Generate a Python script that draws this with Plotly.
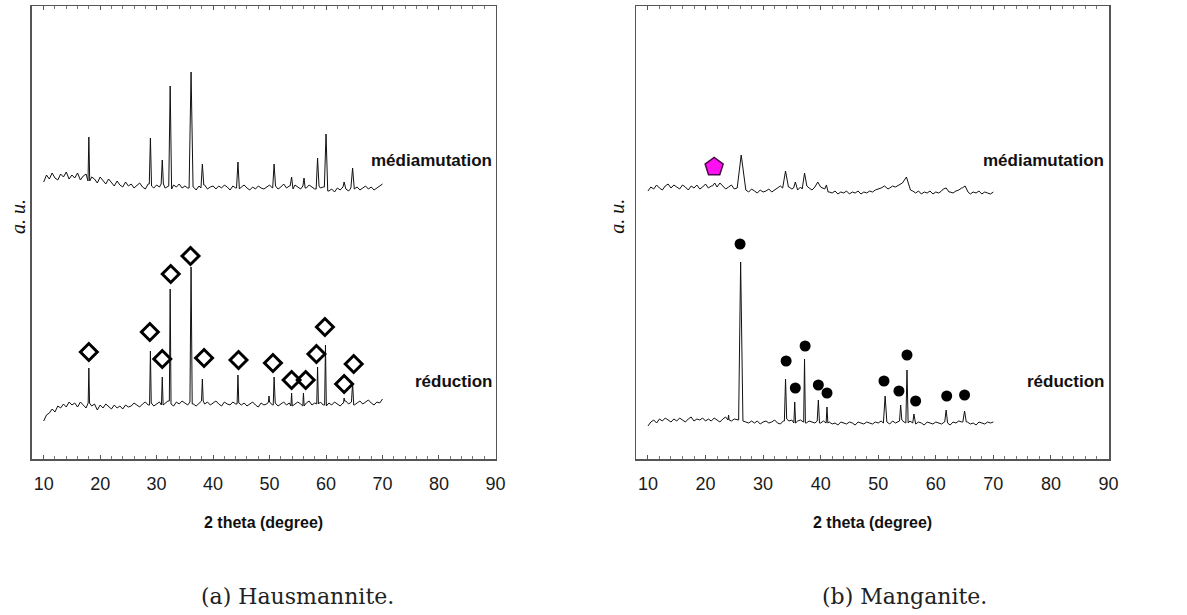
import plotly.graph_objects as go

# ---------------- data (2 theta in degrees, intensity in arbitrary units) ----------------
GRID = [10 + 0.5 * i for i in range(121)]  # sampling positions of the read baselines

# Hausmannite - médiamutation (upper trace, left panel)
HM_MED_BASE = [277, 284, 280, 286, 281, 279, 285, 282, 287, 280, 284,
               281, 286, 279, 283, 285, 278, 282, 280, 276, 282,
               278, 275, 280, 276, 273, 278, 274, 272, 277, 273,
               275, 271, 274, 276, 272, 270, 275, 273, 271, 274,
               272, 275, 271, 273, 270, 274, 272, 275, 271, 273,
               271, 274, 272, 269, 273, 271, 274, 270, 272, 273,
               270, 273, 271, 274, 272, 269, 273, 271, 270, 272,
               274, 271, 269, 272, 270, 273, 271, 270, 272, 274,
               271, 273, 270, 272, 275, 271, 273, 270, 274, 272,
               270, 273, 271, 274, 272, 270, 273, 271, 272, 270,
               268, 270, 267, 271, 269, 272, 270, 268, 271, 270,
               272, 269, 271, 273, 270, 272, 269, 271, 273, 275]
HM_MED_POS = [18.0, 28.9, 31.0, 32.4, 36.1, 38.1, 44.4, 50.8, 53.9, 56.1, 58.5, 60.0, 63.2, 64.7]
HM_MED_TOP = [322, 321, 299, 373, 387, 295, 297, 295, 282, 281, 301, 325, 277, 291]
HM_MED_HW = [0.15, 0.2, 0.2, 0.25, 0.35, 0.25, 0.25, 0.25, 0.25, 0.2, 0.25, 0.3, 0.2, 0.3]

# Hausmannite - réduction (lower trace, left panel)
HM_RED_BASE = [38, 44, 46, 50, 47, 53, 51, 55, 52, 57, 54,
               56, 52, 57, 54, 51, 56, 53, 55, 49, 54,
               51, 55, 52, 50, 54, 51, 53, 50, 54, 52,
               53, 56, 54, 52, 55, 57, 54, 56, 53, 55,
               57, 54, 56, 58, 55, 53, 57, 55, 58, 56,
               54, 57, 55, 53, 56, 58, 55, 57, 54, 56,
               58, 55, 53, 57, 55, 54, 57, 55, 56, 54,
               56, 53, 55, 57, 54, 52, 56, 54, 55, 57,
               54, 56, 53, 55, 57, 54, 56, 53, 55, 57,
               55, 53, 56, 58, 54, 56, 55, 57, 54, 53,
               56, 54, 57, 55, 53, 56, 58, 55, 57, 54,
               56, 58, 55, 57, 59, 56, 54, 57, 56, 60]
HM_RED_POS = [18.0, 28.9, 31.0, 32.4, 36.1, 38.1, 44.4, 49.9, 50.8, 53.9, 56.0, 58.5, 59.9, 63.2, 64.7]
HM_RED_TOP = [91, 108, 82, 170, 192, 80, 84, 63, 82, 66, 66, 92, 114, 61, 76]
HM_RED_HW = [0.12, 0.15, 0.15, 0.15, 0.2, 0.15, 0.15, 0.1, 0.15, 0.12, 0.12, 0.15, 0.15, 0.1, 0.2]

# Hausmannite reference peaks (open diamonds)
HM_MARK_X = [18.0, 28.8, 31.0, 32.5, 36.0, 38.4, 44.5, 50.6, 53.9, 56.4, 58.3, 59.8, 63.2, 64.9]
HM_MARK_Y = [107, 127, 100, 185, 203, 101, 99, 96, 79, 79, 105, 132, 75, 95]

# Manganite - médiamutation (upper trace, right panel)
MN_MED_BASE = [268, 272, 270, 274, 271, 269, 273, 275, 271, 274, 272,
               270, 274, 272, 269, 273, 271, 274, 270, 272, 275,
               271, 273, 270, 272, 276, 273, 270, 272, 274, 270,
               271, 275, 272, 269, 267, 270, 268, 266, 269, 267,
               268, 270, 267, 269, 271, 273, 271, 269, 272, 270,
               271, 269, 272, 270, 273, 271, 269, 272, 270, 272,
               270, 268, 267, 266, 268, 265, 267, 266, 268, 265,
               267, 266, 268, 265, 267, 266, 268, 267, 269, 270,
               271, 269, 270, 271, 273, 272, 274, 276, 273, 271,
               269, 268, 266, 268, 265, 267, 266, 268, 265, 267,
               266, 268, 270, 268, 267, 266, 268, 269, 271, 268,
               267, 265, 267, 266, 268, 265, 267, 266, 265, 267]
MN_MED_POS = [21.6, 26.2, 33.9, 35.6, 37.2, 39.5, 41.0, 51.1, 54.9, 61.8, 65.1]
MN_MED_TOP = [276, 304, 288, 277, 286, 277, 274, 273, 282, 271, 273]
MN_MED_HW = [0.4, 0.7, 0.5, 0.3, 0.4, 0.5, 0.3, 0.6, 0.7, 0.5, 0.5]

# Manganite - réduction (lower trace, right panel)
MN_RED_BASE = [33, 37, 39, 36, 40, 38, 41, 39, 37, 40, 38,
               41, 39, 37, 40, 42, 38, 40, 39, 41, 38,
               40, 38, 41, 39, 37, 40, 42, 39, 38, 40,
               39, 42, 38, 37, 36, 38, 36, 38, 35, 37,
               38, 36, 37, 39, 36, 35, 38, 40, 38, 39,
               36, 38, 39, 37, 36, 38, 37, 36, 38, 36,
               38, 36, 37, 35, 36, 34, 37, 36, 35, 37,
               36, 34, 37, 36, 35, 37, 36, 35, 37, 36,
               38, 36, 37, 35, 38, 36, 38, 39, 37, 36,
               38, 36, 35, 37, 36, 34, 37, 36, 35, 37,
               36, 35, 37, 36, 34, 37, 36, 38, 37, 36,
               37, 35, 36, 34, 37, 36, 35, 37, 36, 37]
MN_RED_POS = [24.0, 26.1, 33.9, 35.5, 37.2, 39.6, 41.1, 51.2, 53.9, 55.0, 56.2, 61.8, 65.0]
MN_RED_TOP = [44, 197, 80, 57, 100, 59, 52, 63, 54, 89, 45, 49, 48]
MN_RED_HW = [0.1, 0.35, 0.2, 0.15, 0.15, 0.2, 0.15, 0.3, 0.2, 0.2, 0.2, 0.25, 0.3]

# Manganite reference peaks (filled circles)
MN_MARK_X = [26.0, 34.0, 35.6, 37.3, 39.6, 41.1, 51.0, 53.6, 55.0, 56.5, 61.9, 65.0]
MN_MARK_Y = [215, 98, 71, 113, 74, 66, 78, 68, 104, 58, 63, 64]

# Extra phase in manganite médiamutation (pentagon)
MN_EXTRA_X = [21.5]
MN_EXTRA_Y = [292]

X_TICKS = [10, 20, 30, 40, 50, 60, 70, 80, 90]
TRACE_NAMES = ["médiamutation", "réduction"]
CAPTIONS = ["(a) Hausmannite.", "(b) Manganite."]
X_TITLE = "2 theta (degree)"
Y_TITLE = "a. u."

for _b in (HM_MED_BASE, HM_RED_BASE, MN_MED_BASE, MN_RED_BASE):
    assert len(_b) == len(GRID)


def build_pattern(grid, base, pos, top, hw):
    """Merge the read baseline samples with the read peak apexes."""
    pts = []
    for x, y in zip(grid, base):
        if any(abs(x - p) < h for p, h in zip(pos, hw)):
            continue
        pts.append((x, y))
    for p, t, h in zip(pos, top, hw):
        il = min(range(len(grid)), key=lambda i: abs(grid[i] - (p - h)))
        ir = min(range(len(grid)), key=lambda i: abs(grid[i] - (p + h)))
        pts += [(p - h, base[il]), (p, t), (p + h, base[ir])]
    pts.sort(key=lambda q: q[0])
    return [q[0] for q in pts], [q[1] for q in pts]


fig = go.Figure()
LINE = dict(color="#111111", width=1)

panels = [
    ("x", "y", (HM_MED_BASE, HM_MED_POS, HM_MED_TOP, HM_MED_HW),
     (HM_RED_BASE, HM_RED_POS, HM_RED_TOP, HM_RED_HW)),
    ("x2", "y2", (MN_MED_BASE, MN_MED_POS, MN_MED_TOP, MN_MED_HW),
     (MN_RED_BASE, MN_RED_POS, MN_RED_TOP, MN_RED_HW)),
]
for xa, ya, med, red in panels:
    for spec in (med, red):
        px, py = build_pattern(GRID, *spec)
        fig.add_trace(go.Scatter(x=px, y=py, mode="lines", line=LINE,
                                 xaxis=xa, yaxis=ya, showlegend=False, hoverinfo="skip"))

fig.add_trace(go.Scatter(x=HM_MARK_X, y=HM_MARK_Y, mode="markers", xaxis="x", yaxis="y",
                         marker=dict(symbol="diamond-open", size=13, color="#000000",
                                     line=dict(width=3, color="#000000")),
                         showlegend=False, hoverinfo="skip"))
fig.add_trace(go.Scatter(x=MN_MARK_X, y=MN_MARK_Y, mode="markers", xaxis="x2", yaxis="y2",
                         marker=dict(symbol="circle", size=11, color="#000000"),
                         showlegend=False, hoverinfo="skip"))
fig.add_trace(go.Scatter(x=MN_EXTRA_X, y=MN_EXTRA_Y, mode="markers", xaxis="x2", yaxis="y2",
                         marker=dict(symbol="pentagon", size=19, color="#ff10f0",
                                     line=dict(width=1.5, color="#4a0a4a")),
                         showlegend=False, hoverinfo="skip"))

# the page body margin is removed (see write_html below): figure fills the window
W, H = 1187, 615
XS = 1.008  # small horizontal calibration of the layout positions


def PX(x):
    return x * XS / W


def PY(y):
    return 1 - y / H


LEFT_DOM = [PX(32), PX(496)]
RIGHT_DOM = [PX(636.7), PX(1110)]
Y_DOM = [PY(459), PY(6)]

xaxis_common = dict(
    tickmode="array", tickvals=X_TICKS, ticktext=[str(t) for t in X_TICKS],
    ticks="inside", ticklen=4, tickwidth=1, tickcolor="#555555",
    minor=dict(dtick=2, ticks="inside", ticklen=3, tickcolor="#777777", tickwidth=1),
    showline=True, linecolor="#555555", linewidth=1.5, mirror="ticks",
    showgrid=False, zeroline=False,
    tickfont=dict(family="Liberation Sans, Arial, sans-serif", size=18, color="#1a1a1a"),
    ticklabelstandoff=8,
)
yaxis_common = dict(
    range=[0, 453], showticklabels=False, ticks="", showgrid=False, zeroline=False,
    showline=True, linecolor="#555555", linewidth=1.5, mirror=True, domain=Y_DOM,
)

fig.update_layout(
    width=W, height=H, margin=dict(l=0, r=0, t=0, b=0),
    paper_bgcolor="white", plot_bgcolor="white",
    xaxis=dict(domain=LEFT_DOM, range=[7.93, 90.05], anchor="y", **xaxis_common),
    yaxis=dict(anchor="x", **yaxis_common),
    xaxis2=dict(domain=RIGHT_DOM, range=[7.99, 90.17], anchor="y2", **xaxis_common),
    yaxis2=dict(anchor="x2", **yaxis_common),
)

LABEL_FONT = dict(family="Liberation Sans, Arial, sans-serif", size=17, color="#111111")
ann = []
for x_right, (cx_title, x_au) in zip([494, 1107], [(264, 18), (873, 617)]):
    ann.append(dict(x=PX(x_right), y=PY(160), xref="paper", yref="paper",
                    text="<b>%s</b>" % TRACE_NAMES[0], showarrow=False,
                    xanchor="right", yanchor="middle", font=LABEL_FONT))
    ann.append(dict(x=PX(x_right), y=PY(381), xref="paper", yref="paper",
                    text="<b>%s</b>" % TRACE_NAMES[1], showarrow=False,
                    xanchor="right", yanchor="middle", font=LABEL_FONT))
    ann.append(dict(x=PX(cx_title), y=PY(522), xref="paper", yref="paper",
                    text="<b>%s</b>" % X_TITLE, showarrow=False,
                    xanchor="center", yanchor="middle",
                    font=dict(family="Liberation Sans, Arial, sans-serif", size=16, color="#111111")))
    ann.append(dict(x=PX(x_au), y=PY(216), xref="paper", yref="paper",
                    text="<i>%s</i>" % Y_TITLE, showarrow=False, textangle=-90,
                    xanchor="center", yanchor="middle",
                    font=dict(family="Liberation Serif, serif", size=20, color="#111111")))
for cx, cap in zip([298, 905], CAPTIONS):
    ann.append(dict(x=PX(cx), y=PY(596), xref="paper", yref="paper",
                    text=cap, showarrow=False, xanchor="center", yanchor="middle",
                    font=dict(family="DejaVu Serif, serif", size=22, color="#222222")))
fig.update_layout(annotations=ann, hovermode=False)

fig.write_html("out.html",
               config={"displayModeBar": False, "staticPlot": True},
               post_script="document.body.style.margin='0';"
                           "document.documentElement.style.overflow='hidden';")
